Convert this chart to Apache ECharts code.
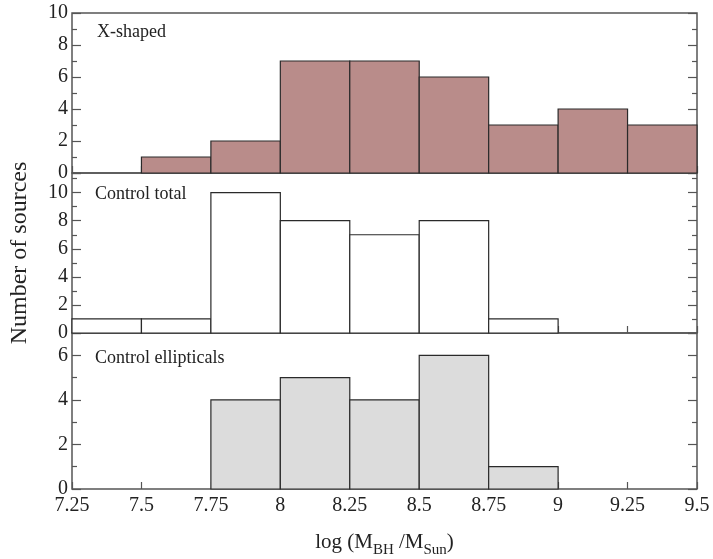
<!DOCTYPE html>
<html>
<head>
<meta charset="utf-8">
<script src="https://cdn.jsdelivr.net/npm/echarts@6/dist/echarts.min.js"></script>
<style>
  html, body { margin: 0; padding: 0; background: #fff; }
  #chart { width: 713px; height: 559px; }
</style>
</head>
<body>
<div id="chart"></div>
<script>
// bin edges for log(M_BH/M_Sun), width 0.25
const binStarts = [7.25, 7.5, 7.75, 8, 8.25, 8.5, 8.75, 9, 9.25]
const binWidth = 0.25
const xShaped = [0, 1, 2, 7, 7, 6, 3, 4, 3]
const controlTotal = [1, 1, 10, 8, 7, 8, 1, 0, 0]
const controlEll = [0, 0, 4, 5, 4, 6, 1, 0, 0]
const xTicks = ['7.25', '7.5', '7.75', '8', '8.25', '8.5', '8.75', '9', '9.25', '9.5']

const FONT = 'Liberation Serif'
const AXIS = '#555'

function bins(counts) {
  return counts
    .map((c, i) => [binStarts[i], binStarts[i] + binWidth, c])
    .filter(d => d[2] > 0)
}

function histSeries(idx, counts, fill) {
  return {
    type: 'custom',
    xAxisIndex: idx,
    yAxisIndex: idx * 2,
    data: bins(counts),
    renderItem: (params, api) => {
      const a = api.coord([api.value(0), 0])
      const b = api.coord([api.value(1), api.value(2)])
      return {
        type: 'rect',
        shape: { x: a[0], y: b[1], width: b[0] - a[0], height: a[1] - b[1] },
        style: { fill: fill, stroke: '#2a2a2a', lineWidth: 1.2 },
      }
    },
  }
}

const panels = [
  { top: 13, max: 10 },
  { top: 173, max: 11.4 },
  { top: 333, max: 7 },
]

const grid = panels.map(p => ({
  left: 72, right: 16, top: p.top, height: 160,
  show: true, borderColor: AXIS, borderWidth: 1.5, backgroundColor: 'transparent',
}))

const xAxis = panels.map((p, i) => ({
  type: 'value', gridIndex: i, min: 7.25, max: 9.5, interval: 0.25,
  axisLine: { show: false },
  axisTick: { show: true, inside: true, length: 7, lineStyle: { color: AXIS, width: 1.2 } },
  splitLine: { show: false },
  axisLabel: {
    show: i === 2, color: '#222', fontFamily: FONT, fontSize: 20, margin: 7,
    formatter: v => {
      const s = xTicks.find(t => Math.abs(parseFloat(t) - v) < 1e-6)
      return s || ''
    },
  },
  name: i === 2 ? '{n|log (M}{s|BH}{n| /M}{s|Sun}{n|)}' : '',
  nameLocation: 'middle', nameGap: 38,
  nameTextStyle: {
    rich: {
      n: { fontFamily: FONT, fontSize: 21, color: '#222' },
      s: { fontFamily: FONT, fontSize: 15, color: '#222', verticalAlign: 'bottom', padding: [16, 0, 0, 0] },
    },
  },
}))

const yAxis = []
panels.forEach((p, i) => {
  const base = {
    type: 'value', gridIndex: i, min: 0, max: p.max, interval: 2,
    axisLine: { show: false },
    splitLine: { show: false },
    axisTick: { show: true, inside: true, length: 9, lineStyle: { color: AXIS, width: 1.2 } },
    minorTick: { show: true, splitNumber: 2, length: 5, lineStyle: { color: AXIS, width: 1.2 } },
  }
  yAxis.push(Object.assign({}, base, {
    position: 'left',
    axisLabel: {
      color: '#222', fontFamily: FONT, fontSize: 20, margin: 4,
      formatter: v => (v % 2 === 0 ? String(v) : ''),
    },
  }))
  yAxis.push(Object.assign({}, base, {
    position: 'right',
    axisLabel: { show: false },
  }))
})

const labelText = (txt, x, y) => ({
  type: 'text', left: x, top: y,
  style: { text: txt, fill: '#222', font: '18px "Liberation Serif"' },
})

const chart = echarts.init(document.getElementById('chart'), null, { renderer: 'canvas' })
chart.setOption({
  animation: false,
  backgroundColor: '#fff',
  grid: grid,
  xAxis: xAxis,
  yAxis: yAxis,
  series: [
    histSeries(0, xShaped, '#b98c8a'),
    histSeries(1, controlTotal, '#ffffff'),
    histSeries(2, controlEll, '#dcdcdc'),
  ],
  graphic: [
    labelText('X-shaped', 97, 23),
    labelText('Control total', 95, 185),
    labelText('Control ellipticals', 95, 349),
    {
      type: 'text', x: 20, y: 253, rotation: Math.PI / 2,
      style: {
        text: 'Number of sources', fill: '#222', font: '24px "Liberation Serif"',
        align: 'center', verticalAlign: 'middle',
      },
    },
  ],
})
</script>
</body>
</html>
